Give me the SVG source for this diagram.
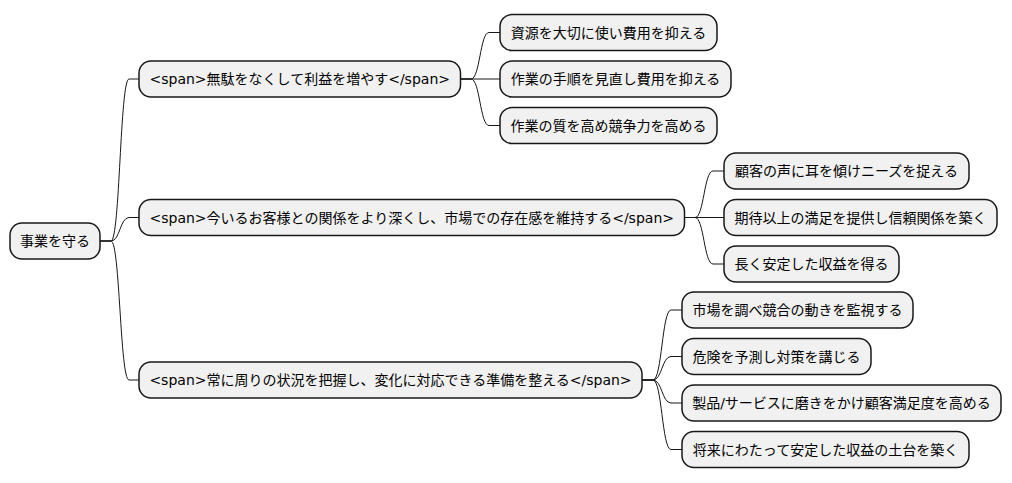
<svg xmlns="http://www.w3.org/2000/svg" width="1012" height="483" viewBox="0 0 1012 483">
<style>
.n rect{fill:#f1f1f1;stroke:#181818;stroke-width:1.5}
.n text{font-family:"DejaVu Sans","Noto Sans CJK JP",sans-serif;font-size:14px;fill:#000;text-anchor:middle}
.c path{fill:none;stroke:#181818;stroke-width:1}
</style>
<rect width="1012" height="483" fill="#fff"/>
<g class="c" id="connectors">
<path d="M100,241 H111 C120,241 120,79 129,79 H139"/>
<path d="M100,241 H111 C120,241 120,217.5 129,217.5 H139"/>
<path d="M100,241 H111 C120,241 120,380 129,380 H139"/>
<path d="M460.5,79 H471 C480,79 480,32.5 489,32.5 H500"/>
<path d="M460.5,79 H500"/>
<path d="M460.5,79 H471 C480,79 480,125.5 489,125.5 H500"/>
<path d="M684.5,217.5 H695 C704,217.5 704,171 713,171 H724"/>
<path d="M684.5,217.5 H724"/>
<path d="M684.5,217.5 H695 C704,217.5 704,264 713,264 H724"/>
<path d="M642,380 H653 C662,380 662,310 671,310 H682"/>
<path d="M642,380 H653 C662,380 662,356.5 671,356.5 H682"/>
<path d="M642,380 H653 C662,380 662,403 671,403 H682"/>
<path d="M642,380 H653 C662,380 662,449.5 671,449.5 H682"/>
</g>
<g class="n" id="root"><rect x="10" y="223" width="90" height="36" rx="12"/><text x="55" y="246">事業を守る</text></g>
<g class="n" id="n1"><rect x="139" y="61" width="321.5" height="36" rx="12"/><text x="299.75" y="84">&lt;span&gt;無駄をなくして利益を増やす&lt;/span&gt;</text></g>
<g class="n" id="n2"><rect x="139" y="199.5" width="545.5" height="36" rx="12"/><text x="411.75" y="222.5">&lt;span&gt;今いるお客様との関係をより深くし、市場での存在感を維持する&lt;/span&gt;</text></g>
<g class="n" id="n3"><rect x="139" y="362" width="503" height="36" rx="12"/><text x="390.5" y="385">&lt;span&gt;常に周りの状況を把握し、変化に対応できる準備を整える&lt;/span&gt;</text></g>
<g class="n" id="n1a"><rect x="500" y="14.5" width="217" height="36" rx="12"/><text x="608.5" y="37.5">資源を大切に使い費用を抑える</text></g>
<g class="n" id="n1b"><rect x="500" y="61" width="231" height="36" rx="12"/><text x="615.5" y="84">作業の手順を見直し費用を抑える</text></g>
<g class="n" id="n1c"><rect x="500" y="107.5" width="217" height="36" rx="12"/><text x="608.5" y="130.5">作業の質を高め競争力を高める</text></g>
<g class="n" id="n2a"><rect x="724" y="153" width="245" height="36" rx="12"/><text x="846.5" y="176">顧客の声に耳を傾けニーズを捉える</text></g>
<g class="n" id="n2b"><rect x="724" y="199.5" width="273" height="36" rx="12"/><text x="860.5" y="222.5">期待以上の満足を提供し信頼関係を築く</text></g>
<g class="n" id="n2c"><rect x="724" y="246" width="175" height="36" rx="12"/><text x="811.5" y="269">長く安定した収益を得る</text></g>
<g class="n" id="n3a"><rect x="682" y="292" width="231" height="36" rx="12"/><text x="797.5" y="315">市場を調べ競合の動きを監視する</text></g>
<g class="n" id="n3b"><rect x="682" y="338.5" width="189" height="36" rx="12"/><text x="776.5" y="361.5">危険を予測し対策を講じる</text></g>
<g class="n" id="n3c"><rect x="682" y="385" width="319" height="36" rx="12"/><text x="841.5" y="408">製品/サービスに磨きをかけ顧客満足度を高める</text></g>
<g class="n" id="n3d"><rect x="682" y="431.5" width="287" height="36" rx="12"/><text x="825.5" y="454.5">将来にわたって安定した収益の土台を築く</text></g>
</svg>
